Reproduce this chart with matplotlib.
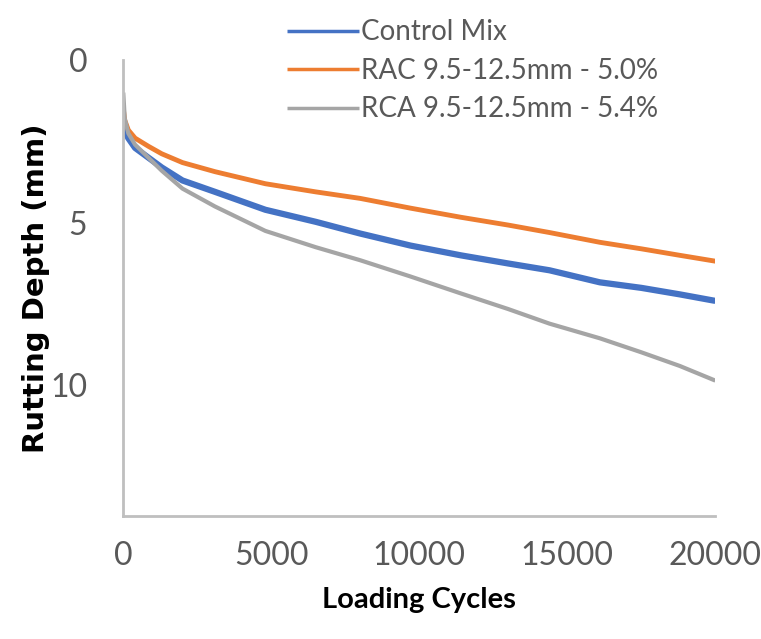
import matplotlib.pyplot as plt

# values
cycles = [0, 50, 170, 400, 850, 1300, 2000, 3100, 4800, 6500, 8000,
          9700, 11400, 13000, 14400, 16100, 17500, 18800, 20000]
control_mix = [1.85, 2.15, 2.4, 2.7, 3.0, 3.3, 3.7, 4.05, 4.6, 4.97, 5.33,
               5.7, 6.0, 6.25, 6.46, 6.83, 7.0, 7.2, 7.4]
rac_mix = [1.5, 1.85, 2.15, 2.4, 2.65, 2.88, 3.15, 3.43, 3.8, 4.05, 4.25,
           4.55, 4.83, 5.07, 5.3, 5.6, 5.8, 6.0, 6.18]
rca_mix = [1.0, 1.8, 2.25, 2.6, 3.0, 3.4, 3.95, 4.5, 5.25, 5.75, 6.15,
           6.65, 7.17, 7.65, 8.1, 8.55, 8.98, 9.4, 9.85]

labels = ["Control Mix", "RAC 9.5-12.5mm - 5.0%", "RCA 9.5-12.5mm - 5.4%"]
colors = ["#4472C4", "#ED7D31", "#A5A5A5"]
widths = [4.5, 3.5, 3.0]

plt.rcParams["font.family"] = ["Lato", "DejaVu Sans"]

fig = plt.figure(figsize=(7.61, 6.39), dpi=100)
ax = fig.add_axes([0.162, 0.193, 0.778, 0.713])

for ys, lab, c, lw in zip([control_mix, rac_mix, rca_mix], labels, colors, widths):
    ax.plot(cycles, ys, color=c, lw=lw, label=lab, solid_capstyle="butt")

ax.set_xlim(0, 20000)
ax.set_ylim(14, 0)
ax.set_xticks([0, 5000, 10000, 15000, 20000])
ax.set_yticks([0, 5, 10])
ax.tick_params(length=0, labelsize=23, labelcolor="#595959")
ax.tick_params(axis="x", pad=18)
ax.tick_params(axis="y", pad=26)

for side in ["top", "right"]:
    ax.spines[side].set_visible(False)
for side in ["left", "bottom"]:
    ax.spines[side].set_color("#BFBFBF")
    ax.spines[side].set_linewidth(2)

ax.set_xlabel("Loading Cycles", fontsize=21, fontweight="bold", labelpad=12)
# the y title is drawn taller in the reference, DejaVu Bold matches its size
ax.set_ylabel("Rutting Depth (mm)", fontsize=21, fontweight="bold", labelpad=0,
              family="DejaVu Sans")

leg = fig.legend(loc="upper left", bbox_to_anchor=(0.351, 1.0), frameon=False,
                 fontsize=20, labelcolor="#595959", handlelength=2.6,
                 handletextpad=0.08, labelspacing=0.45, borderpad=0.2)
for line in leg.get_lines():
    line.set_linewidth(2.5)

fig.savefig("out.png", dpi=100)
